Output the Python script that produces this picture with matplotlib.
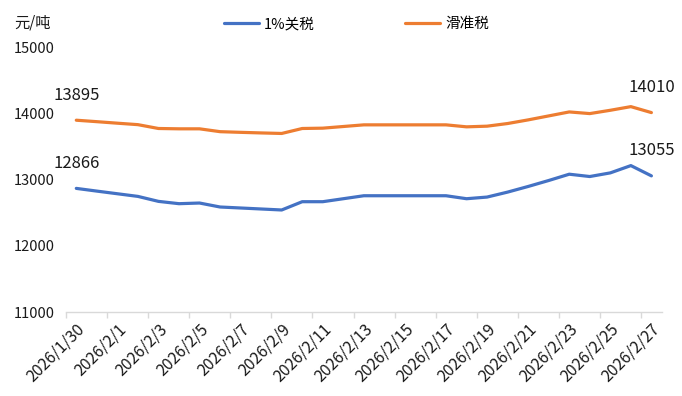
import matplotlib
matplotlib.use('Agg')
import matplotlib.pyplot as plt
import pandas as pd

plt.rcParams['font.family'] = ['Noto Sans CJK SC', 'DejaVu Sans']

dates = ['2026-01-30', '2026-01-31', '2026-02-01', '2026-02-02', '2026-02-03',
         '2026-02-04', '2026-02-05', '2026-02-06', '2026-02-07', '2026-02-08',
         '2026-02-09', '2026-02-10', '2026-02-11', '2026-02-12', '2026-02-13',
         '2026-02-14', '2026-02-15', '2026-02-16', '2026-02-17', '2026-02-18',
         '2026-02-19', '2026-02-20', '2026-02-21', '2026-02-22', '2026-02-23',
         '2026-02-24', '2026-02-25', '2026-02-26', '2026-02-27']
tariff_1pct = [12866, 12825, 12785, 12745, 12670, 12635, 12645, 12585, 12570, 12555,
               12540, 12665, 12665, 12710, 12755, 12755, 12755, 12755, 12755, 12710,
               12735, 12810, 12895, 12985, 13080, 13045, 13100, 13210, 13055]
sliding_tax = [13895, 13873, 13850, 13828, 13770, 13765, 13765, 13722, 13712, 13703,
               13695, 13770, 13775, 13800, 13825, 13825, 13825, 13825, 13825, 13795,
               13805, 13845, 13900, 13960, 14020, 13995, 14045, 14100, 14010]
y_ticks = [11000, 12000, 13000, 14000, 15000]

BLUE = '#4472C4'
ORANGE = '#ED7D31'
GREY = '#d9d9d9'
TXT = '#1a1a1a'

x = pd.to_datetime(dates)
half_day = pd.Timedelta(hours=12)

fig = plt.figure(figsize=(6.82, 3.96), dpi=100)
ax = fig.add_axes([0.0968, 0.2121, 0.8734, 0.6692])

ax.plot(x, tariff_1pct, color=BLUE, lw=2.3, solid_capstyle='round',
        solid_joinstyle='round', label='1%关税')
ax.plot(x, sliding_tax, color=ORANGE, lw=2.3, solid_capstyle='round',
        solid_joinstyle='round', label='滑准税')

# end-point labels
for series in (tariff_1pct, sliding_tax):
    for i in (0, -1):
        ax.annotate(f'{series[i]}', (x[i], series[i]), xytext=(0, 25),
                    textcoords='offset pixels', ha='center', va='center',
                    fontsize=12, color=TXT)

ax.set_xlim(x[0] - half_day, x[-1] + half_day)
ax.set_ylim(y_ticks[0], y_ticks[-1])
ax.set_yticks(y_ticks)

for s in ['top', 'right', 'left']:
    ax.spines[s].set_visible(False)
ax.spines['bottom'].set_color(GREY)
ax.spines['bottom'].set_linewidth(1)

ax.tick_params(axis='y', length=0, pad=8, labelsize=10.5, labelcolor=TXT)

tick_dates = x[::2]
ax.set_xticks(tick_dates)
ax.set_xticklabels([f'{d.year}/{d.month}/{d.day}' for d in tick_dates],
                   rotation=45, ha='right', rotation_mode='anchor')
ax.tick_params(axis='x', which='major', length=0, pad=6, labelsize=11.5, labelcolor=TXT)
ax.set_xticks(tick_dates - half_day, minor=True)
ax.tick_params(axis='x', which='minor', length=4, width=1, color=GREY)

fig.text(14 / 682, 1 - 23 / 396, '元/吨', ha='left', va='center', fontsize=11, color=TXT)
fig.legend(loc='center', bbox_to_anchor=(0.5227, 0.939), ncol=2, frameon=False,
           fontsize=10.5, handlelength=2.4, handletextpad=0.35, columnspacing=6.2)

fig.savefig('out.png', dpi=100)
